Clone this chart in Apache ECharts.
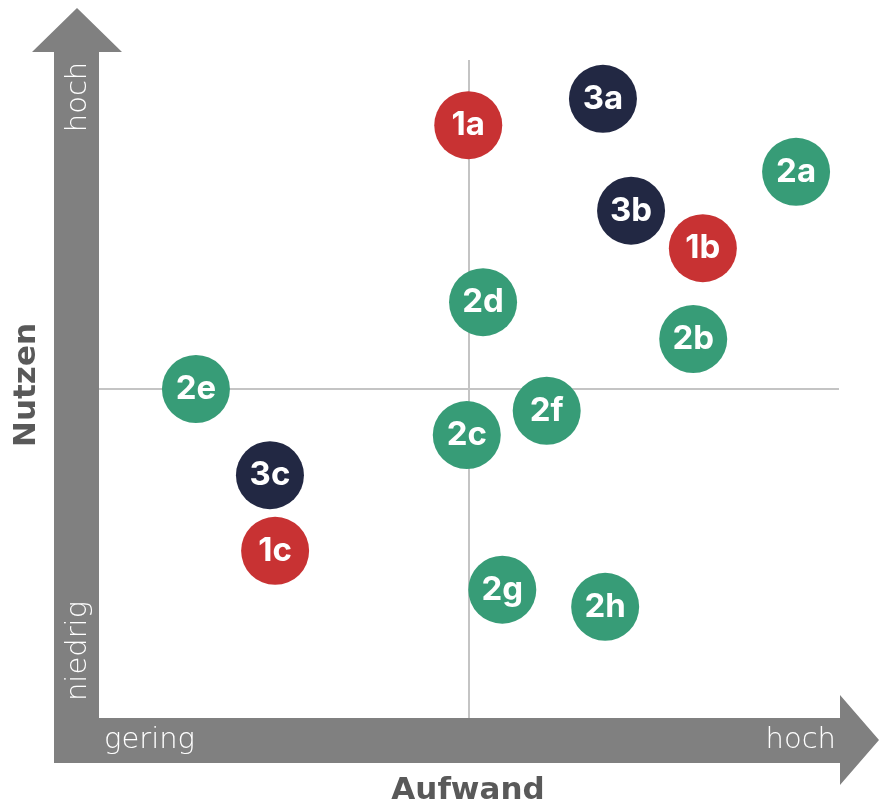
<!DOCTYPE html>
<html>
<head>
	<meta charset="UTF-8">
	<title></title>
	<script type="text/javascript" src="https://cdn.jsdelivr.net/npm/echarts@6/dist/echarts.min.js"></script>
	<style>
		html,body{margin:0;padding:0;background:#fff;}
		#matrix_chart{width:879px;height:808px;}
	</style>
</head>
<body>
<div id="matrix_chart"></div>
<script>
	// Aufwand (x) / Nutzen (y), 0..100, Mitte = 50
	var redNames = ['1a', '1b', '1c'];
	var redX = [49.9, 81.6, 23.8];
	var redY = [90.1, 71.4, 25.4];

	var greenNames = ['2a', '2b', '2c', '2d', '2e', '2f', '2g', '2h'];
	var greenX = [94.2, 80.3, 49.7, 51.9, 13.1, 60.5, 54.5, 68.4];
	var greenY = [83.0, 57.6, 43.0, 63.2, 50.0, 46.7, 19.5, 16.9];

	var navyNames = ['3a', '3b', '3c'];
	var navyX = [68.1, 71.9, 23.1];
	var navyY = [94.1, 77.1, 36.9];

	var xLabels = ['gering', 'hoch'];
	var yLabels = ['niedrig', 'hoch'];
	var midValue = 50;

	function toPoints(names, xs, ys){
		var out = [];
		for (var i = 0; i < names.length; i++) {
			out.push({name: names[i], value: [xs[i], ys[i]]});
		}
		return out;
	}

	var lightFont = '200 29px "DejaVu Sans", sans-serif';
	var titleFont = 'bold 31px "DejaVu Sans", sans-serif';
	var grey = '#808080';

	function bubbles(name, color, pts){
		return {
			name: name,
			type: 'scatter',
			symbolSize: 68,
			itemStyle: {color: color, opacity: 1},
			label: {
				show: true,
				position: 'inside',
				formatter: '{b}',
				color: '#fff',
				fontFamily: 'Inter, sans-serif',
				fontWeight: 'bold',
				fontSize: 33
			},
			data: pts,
			z: 5
		};
	}

	var myChart = echarts.init(document.getElementById('matrix_chart'));
	var option = {
		animation: false,
		backgroundColor: '#fff',
		grid: {left: 99, top: 60, width: 740, height: 658},
		xAxis: {type: 'value', min: 0, max: 100, show: false},
		yAxis: {type: 'value', min: 0, max: 100, show: false},
		graphic: [
			// y-Pfeil
			{type: 'polygon', z: 1, shape: {points: [[54, 763], [54, 52], [32, 52], [77, 8], [122, 52], [99, 52], [99, 763]]}, style: {fill: grey}},
			// x-Pfeil
			{type: 'polygon', z: 1, shape: {points: [[54, 718], [840, 718], [840, 695], [879, 740], [840, 785], [840, 763], [54, 763]]}, style: {fill: grey}},
			{type: 'text', z: 2, x: 78, y: 97, rotation: Math.PI / 2,
				style: {text: yLabels[1], fill: '#fff', font: lightFont, align: 'center', verticalAlign: 'middle'}},
			{type: 'text', z: 2, x: 78, y: 651, rotation: Math.PI / 2,
				style: {text: yLabels[0], fill: '#fff', font: lightFont, align: 'center', verticalAlign: 'middle'}},
			{type: 'text', z: 2, x: 104, y: 740,
				style: {text: xLabels[0], fill: '#fff', font: lightFont, align: 'left', verticalAlign: 'middle'}},
			{type: 'text', z: 2, x: 836, y: 740,
				style: {text: xLabels[1], fill: '#fff', font: lightFont, align: 'right', verticalAlign: 'middle'}},
			{type: 'text', z: 2, x: 27, y: 385, rotation: Math.PI / 2,
				style: {text: 'Nutzen', fill: '#595959', font: titleFont, align: 'center', verticalAlign: 'middle'}},
			{type: 'text', z: 2, x: 468, y: 791,
				style: {text: 'Aufwand', fill: '#595959', font: titleFont, align: 'center', verticalAlign: 'middle'}}
		],
		series: [
			{
				type: 'line',
				data: [],
				silent: true,
				markLine: {
					symbol: 'none',
					silent: true,
					label: {show: false},
					lineStyle: {color: '#c4c4c4', width: 2, type: 'solid'},
					data: [
						{xAxis: midValue},
						{yAxis: midValue}
					]
				},
				z: 2
			},
			bubbles('1', '#c83233', toPoints(redNames, redX, redY)),
			bubbles('2', '#379c77', toPoints(greenNames, greenX, greenY)),
			bubbles('3', '#222843', toPoints(navyNames, navyX, navyY))
		]
	};
	myChart.setOption(option);
</script>
</body>
</html>
